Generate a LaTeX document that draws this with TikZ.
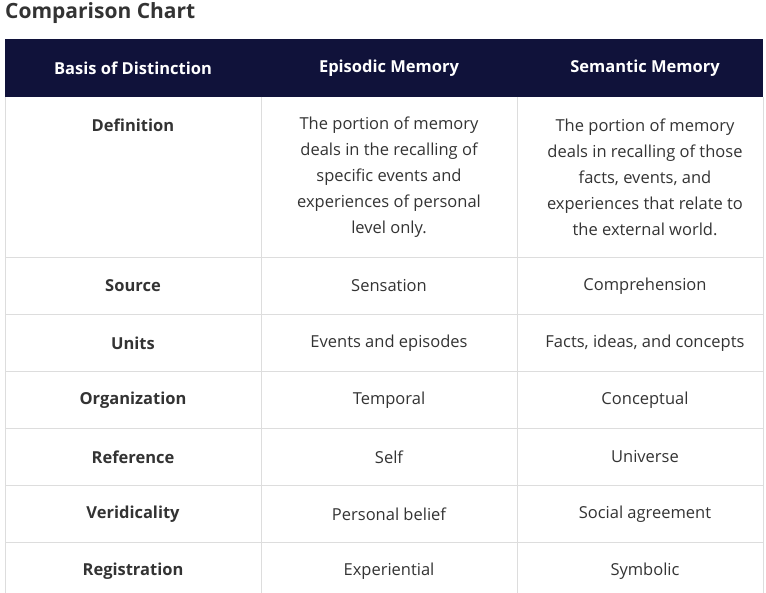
\documentclass[tikz,border=0pt]{standalone}
\usepackage{fontspec}
\setmainfont{Open Sans}
\definecolor{hdr}{HTML}{10123A}
\definecolor{grid}{HTML}{DDDDDD}
\definecolor{txt}{HTML}{333333}
\begin{document}
\begin{tikzpicture}[x=1pt,y=-1pt,
  cell/.style={text=txt,font=\fontsize{16.5}{26}\selectfont,align=center,inner sep=0pt},
  lab/.style={cell,font=\fontsize{16.5}{26}\selectfont\bfseries},
  head/.style={text=white,font=\fontsize{16.5}{20}\selectfont\bfseries,inner sep=0pt}]
\useasboundingbox (0,0) rectangle (766,593);
\fill[hdr] (5,39) rectangle (763,97);
\foreach \y in {257,314,371,428,485,542} \draw[grid] (5,\y) -- (763,\y);
\foreach \x in {5,261,517,763} \draw[grid] (\x,97) -- (\x,593);
\node[anchor=west,text=txt,font=\fontsize{21}{24}\selectfont\bfseries,inner sep=0pt] (title) at (5,13) {Comparison Chart};
\node[head] (h1) at (133,68) {Basis of Distinction};
\node[head] (h2) at (389,68) {Episodic Memory};
\node[head] (h3) at (645,68) {Semantic Memory};
\node[lab] (d1) at (133,125) {Definition};
\node[cell] (d2) at (389,177) {The portion of memory\\deals in the recalling of\\specific events and\\experiences of personal\\level only.};
\node[cell] (d3) at (645,177) {The portion of memory\\deals in recalling of those\\facts, events, and\\experiences that relate to\\the external world.};
\foreach \n/\y/\a/\b/\c in {s/286/Source/Sensation/Comprehension,
  u/343/Units/Events and episodes/{Facts, ideas, and concepts},
  o/400/Organization/Temporal/Conceptual,
  r/457/Reference/Self/Universe,
  v/514/Veridicality/Personal belief/Social agreement,
  g/571/Registration/Experiential/Symbolic}{
  \node[lab] (\n1) at (133,\y) {\a};
  \node[cell] (\n2) at (389,\y) {\b};
  \node[cell] (\n3) at (645,\y) {\c};
}
\end{tikzpicture}
\end{document}
